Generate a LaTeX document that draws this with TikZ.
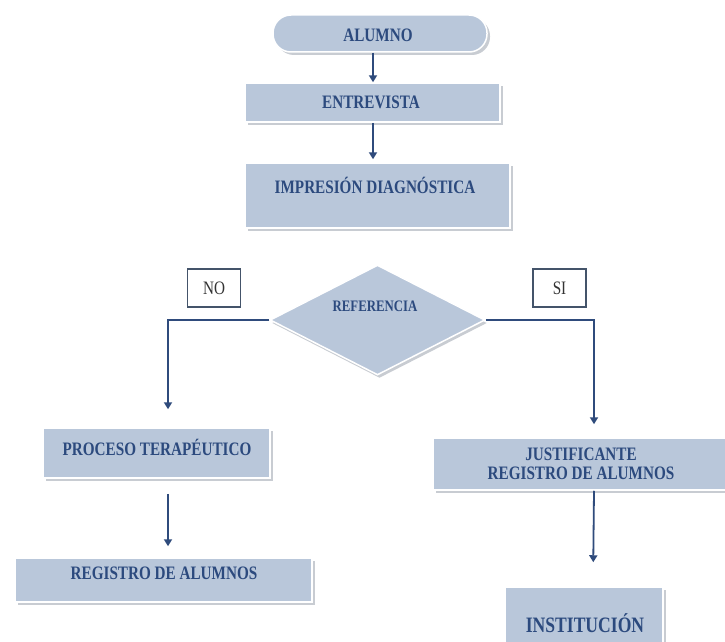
\documentclass[tikz,border=0pt]{standalone}
\usepackage{fontspec}
\setmainfont{Liberation Serif}[FakeStretch=0.8]
\usetikzlibrary{shapes.geometric,shadows,arrows.meta}
\definecolor{boxfill}{RGB}{185,199,218}
\definecolor{txtblue}{RGB}{44,74,126}
\definecolor{linecol}{RGB}{47,75,124}
\definecolor{shadowgray}{RGB}{200,204,210}
\definecolor{tagline}{RGB}{68,84,106}
\tikzset{
  boxshape/.style={rectangle, fill=boxfill, draw=white, line width=1.5pt, inner sep=0pt,
    drop shadow={shadow xshift=3pt, shadow yshift=-3pt, fill=shadowgray, opacity=1}},
  lbl/.style={text=txtblue, font=\fontsize{19}{19}\selectfont\bfseries, inner sep=0pt, align=center},
  tag/.style={rectangle, draw=tagline, fill=white, line width=1.5pt, inner sep=0pt,
    minimum width=53pt, minimum height=38pt, text=black!80, font=\fontsize{19}{21}\selectfont},
  conn/.style={draw=linecol, line width=1.8pt, -{Triangle[width=8pt,length=7pt]}}
}
\begin{document}
\begin{tikzpicture}[x=1pt,y=-1pt]
\clip (0,0) rectangle (725,642);
\fill[white] (0,0) rectangle (725,642);
% top chain
\node[boxshape, rounded corners=18pt, minimum width=214pt, minimum height=37pt] (alumno) at (380,33.5) {};
\node[lbl] (alumnot) at (378,35) {ALUMNO};
\node[boxshape, minimum width=255pt, minimum height=39pt] (entre) at (372.5,102.5) {};
\node[lbl] (entret) at (371,102) {ENTREVISTA};
\node[boxshape, minimum width=265pt, minimum height=65pt] (impr) at (377.5,195.5) {};
\node[lbl] (imprt) at (375,185) {IMPRESIÓN DIAGNÓSTICA};
% decision
\node[diamond, fill=boxfill, draw=white, line width=1.5pt, inner sep=0pt, aspect=1.95,
  minimum width=215pt, minimum height=110pt,
  drop shadow={shadow xshift=2pt, shadow yshift=-3pt, fill=shadowgray, opacity=1}] (ref) at (377.5,320) {};
\node[lbl, font=\fontsize{16}{18}\selectfont\bfseries] (reft) at (375,306) {REFERENCIA};
\node[tag] (no) at (214,288) {NO};
\node[tag] (si) at (559.5,288) {SI};
% left branch
\node[boxshape, minimum width=227pt, minimum height=50pt] (proc) at (156.5,453) {};
\node[lbl] (proct) at (157,447) {PROCESO TERAPÉUTICO};
\node[boxshape, minimum width=297pt, minimum height=44pt] (reg) at (163.5,580) {};
\node[lbl] (regt) at (164,573) {REGISTRO DE ALUMNOS};
% right branch
\node[boxshape, minimum width=294pt, minimum height=52pt] (just) at (580,464) {};
\node[lbl] (justt) at (581,463.5) {JUSTIFICANTE\\REGISTRO DE ALUMNOS};
\node[boxshape, minimum width=158pt, minimum height=70pt] (inst) at (584,622) {};
\node[lbl, font=\fontsize{22}{24}\selectfont\bfseries] (instt) at (585,623) {INSTITUCIÓN};
% connectors
\draw[conn] (alumno.south -| 373,0) -- (entre.north -| 373,0);
\draw[conn, shorten >=3pt] (entre.south -| 373,0) -- (impr.north -| 373,0);
\draw[conn, shorten >=18pt] (ref.west) -| ([xshift=11.5pt]proc.north);
\draw[conn, shorten >=13pt] (ref.east) -| ([xshift=14pt]just.north);
\draw[conn, shorten >=11pt, shorten <=15pt] ([xshift=11.5pt]proc.south) -- ([xshift=4.5pt]reg.north);
\draw[conn, shorten >=24pt] ([xshift=14pt]just.south) -- ([xshift=9pt]inst.north);
\end{tikzpicture}
\end{document}
